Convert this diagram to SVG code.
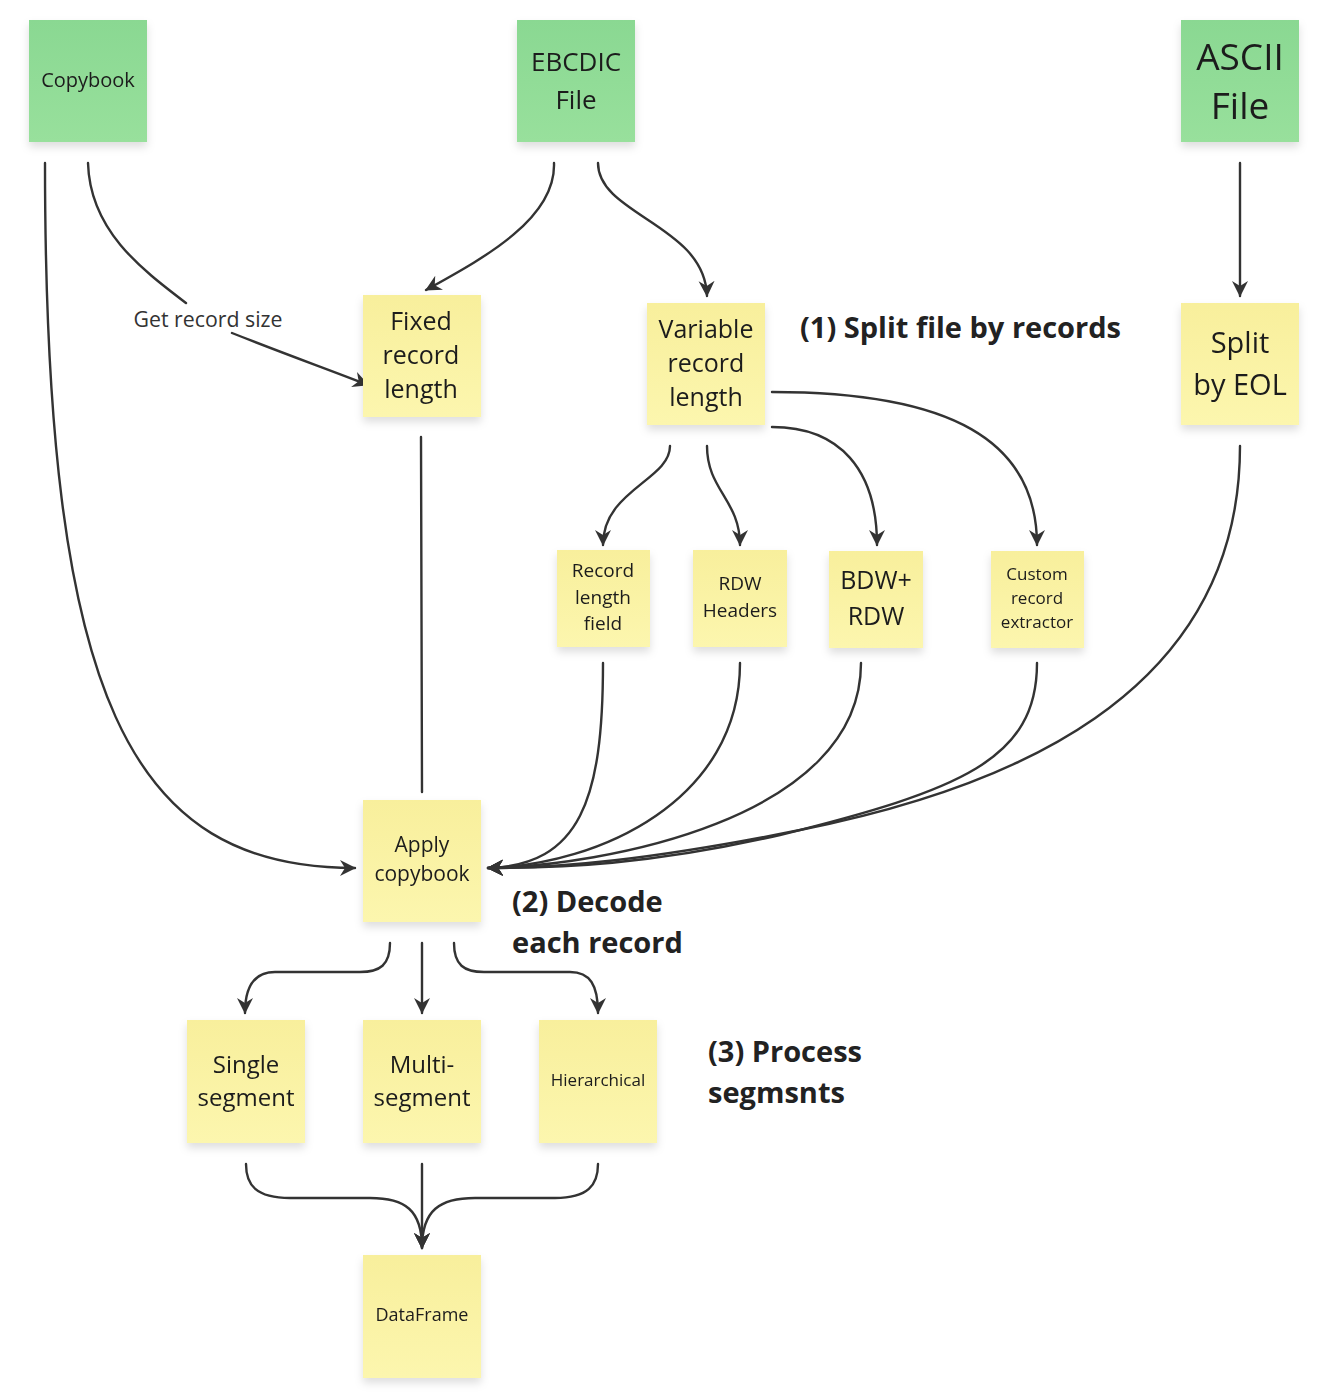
<svg xmlns="http://www.w3.org/2000/svg" width="1318" height="1398" viewBox="0 0 1318 1398">
<style>
.note{filter:url(#sh)}
.y{fill:url(#gy)}
.g{fill:url(#gg)}
text{font-family:"Open Sans","Noto Sans","Liberation Sans",sans-serif;fill:#1c1c1c;text-anchor:middle;dominant-baseline:central}
.lbl{font-weight:bold;text-anchor:start;fill:#222;font-size:29px}
.edge{fill:none;stroke:#333;stroke-width:2.4;stroke-linecap:round}
</style>
<defs>
<linearGradient id="gy" x1="0" y1="0" x2="0" y2="1"><stop offset="0" stop-color="#f8ef9c"/><stop offset="1" stop-color="#fcf6ae"/></linearGradient>
<linearGradient id="gg" x1="0" y1="0" x2="0" y2="1"><stop offset="0" stop-color="#8ad892"/><stop offset="1" stop-color="#98e09c"/></linearGradient>
<filter id="sh" x="-20%" y="-20%" width="140%" height="150%"><feDropShadow dx="0" dy="5" stdDeviation="4" flood-color="#000" flood-opacity="0.13"/></filter>
<marker id="ah" viewBox="0 0 16 18" refX="15" refY="9" markerWidth="16" markerHeight="18" markerUnits="userSpaceOnUse" orient="auto"><path d="M0,1 L16,9 L0,17 L5,9 z" fill="#333"/></marker>
</defs>
<rect width="1318" height="1398" fill="#fff"/>
<g id="connectors">
<path class="edge" d="M45,163 C45,700 130,868 355,868" marker-end="url(#ah)"/>
<path class="edge" d="M88,163 C90,230 140,268 186,303"/>
<path class="edge" d="M232,333 C290,356 330,370 368,385" marker-end="url(#ah)"/>
<path class="edge" d="M554,163 C556,220 480,260 426,290" marker-end="url(#ah)"/>
<path class="edge" d="M598,163 C598,215 705,225 707,296" marker-end="url(#ah)"/>
<path class="edge" d="M1240,163 L1240,296" marker-end="url(#ah)"/>
<path class="edge" d="M670,446 C670,480 603,490 603,545" marker-end="url(#ah)"/>
<path class="edge" d="M707,446 C707,490 740,500 740,545" marker-end="url(#ah)"/>
<path class="edge" d="M772,427 C840,427 877,470 877,545" marker-end="url(#ah)"/>
<path class="edge" d="M772,392 C950,392 1037,440 1037,545" marker-end="url(#ah)"/>
<path class="edge" d="M421,437 L422,792"/>
<path class="edge" d="M603,663 C603,800 580,865 488,868" marker-end="url(#ah)"/>
<path class="edge" d="M740,663 C740,800 600,865 488,868" marker-end="url(#ah)"/>
<path class="edge" d="M861,663 C861,820 600,866 488,868" marker-end="url(#ah)"/>
<path class="edge" d="M1037,663 C1037,760 960,790 780,835 C650,865 560,868 488,868" marker-end="url(#ah)"/>
<path class="edge" d="M1240,446 C1240,700 1000,790 800,830 C650,860 560,868 488,868" marker-end="url(#ah)"/>
<path class="edge" d="M390,943 C390,965 380,972 360,972 L275,972 C255,972 245,985 245,1013" marker-end="url(#ah)"/>
<path class="edge" d="M422,943 L422,1013" marker-end="url(#ah)"/>
<path class="edge" d="M454,943 C454,965 464,972 484,972 L570,972 C590,972 598,985 598,1013" marker-end="url(#ah)"/>
<path class="edge" d="M246,1164 C246,1185 256,1198 290,1198 L370,1198 C405,1198 422,1210 422,1248" marker-end="url(#ah)"/>
<path class="edge" d="M422,1164 L422,1248" marker-end="url(#ah)"/>
<path class="edge" d="M598,1164 C598,1185 588,1198 555,1198 L475,1198 C440,1198 422,1210 422,1248" marker-end="url(#ah)"/>
<text x="208" y="318" style="font-size:21.3px;fill:#333">Get record size</text>
</g>
<g id="copybook" class="note"><rect class="g" x="29" y="20" width="118" height="122"/><text x="88" y="79" style="font-size:20px">Copybook</text></g>
<g id="ebcdic" class="note"><rect class="g" x="517" y="20" width="118" height="122"/><text x="576" y="61" style="font-size:26px">EBCDIC</text><text x="576" y="99" style="font-size:26px">File</text></g>
<g id="ascii" class="note"><rect class="g" x="1181" y="20" width="118" height="122"/><text x="1240" y="55" style="font-size:37px">ASCII</text><text x="1240" y="104" style="font-size:37px">File</text></g>
<g id="fixed" class="note"><rect class="y" x="363" y="295" width="118" height="122"/><text x="421" y="320" style="font-size:25px">Fixed</text><text x="421" y="354" style="font-size:25px">record</text><text x="421" y="388" style="font-size:25px">length</text></g>
<g id="variable" class="note"><rect class="y" x="647" y="303" width="118" height="122"/><text x="706" y="328" style="font-size:25px">Variable</text><text x="706" y="362" style="font-size:25px">record</text><text x="706" y="396" style="font-size:25px">length</text></g>
<g id="eol" class="note"><rect class="y" x="1181" y="303" width="118" height="122"/><text x="1240" y="341" style="font-size:29px">Split</text><text x="1240" y="383" style="font-size:29px">by EOL</text></g>
<g id="rlf" class="note"><rect class="y" x="557" y="550" width="93" height="97"/><text x="603" y="570" style="font-size:19px">Record</text><text x="603" y="597" style="font-size:19px">length</text><text x="603" y="623" style="font-size:19px">field</text></g>
<g id="rdw" class="note"><rect class="y" x="693" y="550" width="94" height="97"/><text x="740" y="583" style="font-size:19px">RDW</text><text x="740" y="610" style="font-size:19px">Headers</text></g>
<g id="bdw" class="note"><rect class="y" x="829" y="551" width="94" height="97"/><text x="876" y="579" style="font-size:25px">BDW+</text><text x="876" y="615" style="font-size:25px">RDW</text></g>
<g id="custom" class="note"><rect class="y" x="991" y="551" width="93" height="97"/><text x="1037" y="573" style="font-size:17px">Custom</text><text x="1037" y="597" style="font-size:17px">record</text><text x="1037" y="621" style="font-size:17px">extractor</text></g>
<g id="apply" class="note"><rect class="y" x="363" y="800" width="118" height="122"/><text x="422" y="844" style="font-size:21px">Apply</text><text x="422" y="873" style="font-size:21px">copybook</text></g>
<g id="single" class="note"><rect class="y" x="187" y="1020" width="118" height="123"/><text x="246" y="1063" style="font-size:24px">Single</text><text x="246" y="1096" style="font-size:24px">segment</text></g>
<g id="multi" class="note"><rect class="y" x="363" y="1020" width="118" height="123"/><text x="422" y="1063" style="font-size:24px">Multi-</text><text x="422" y="1096" style="font-size:24px">segment</text></g>
<g id="hier" class="note"><rect class="y" x="539" y="1020" width="118" height="123"/><text x="598" y="1079" style="font-size:17px">Hierarchical</text></g>
<g id="dataframe" class="note"><rect class="y" x="363" y="1255" width="118" height="123"/><text x="422" y="1314" style="font-size:18px">DataFrame</text></g>
<g id="labels">
<text class="lbl" x="800" y="326">(1) Split file by records</text>
<text class="lbl" x="512" y="900">(2) Decode</text>
<text class="lbl" x="512" y="941">each record</text>
<text class="lbl" x="708" y="1050">(3) Process</text>
<text class="lbl" x="708" y="1091">segmsnts</text>
</g>
</svg>
